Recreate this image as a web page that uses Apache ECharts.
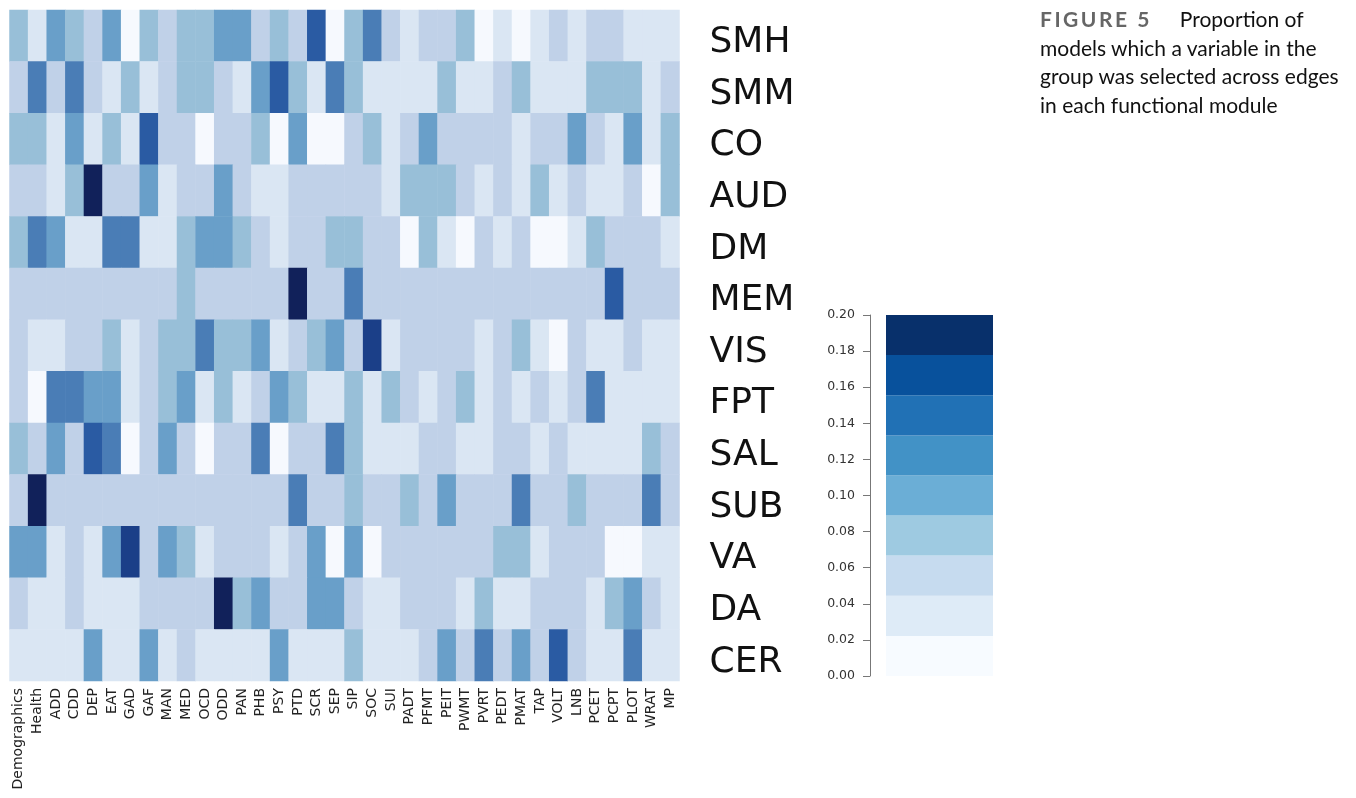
<!DOCTYPE html>
<html>
<head>
<meta charset="utf-8">
<script src="https://cdn.jsdelivr.net/npm/echarts@6/dist/echarts.min.js"></script>
<style>
  html, body { margin: 0; padding: 0; background: #fff; }
  #chart { width: 1356px; height: 798px; }
  #caption {
    position: absolute; left: 1040px; top: 5px; width: 316px; white-space: nowrap;
    font-family: Lato, sans-serif; font-size: 21px; line-height: 28.5px; color: #111;
  }
  #caption b { color: #666; letter-spacing: 2.5px; margin-right: 28px; }
</style>
</head>
<body>
<div id="chart"></div>
<div id="caption"><b>FIGURE 5</b>Proportion of<br>models which a variable in the<br>group was selected across edges<br>in each functional module</div>

<script>
  // variable groups (columns) and functional modules (rows)
  var groups = ['Demographics', 'Health', 'ADD', 'CDD', 'DEP', 'EAT', 'GAD', 'GAF', 'MAN', 'MED', 'OCD', 'ODD',
    'PAN', 'PHB', 'PSY', 'PTD', 'SCR', 'SEP', 'SIP', 'SOC', 'SUI', 'PADT', 'PFMT', 'PEIT', 'PWMT', 'PVRT',
    'PEDT', 'PMAT', 'TAP', 'VOLT', 'LNB', 'PCET', 'PCPT', 'PLOT', 'WRAT', 'MP'];
  var modules = ['SMH', 'SMM', 'CO', 'AUD', 'DM', 'MEM', 'VIS', 'FPT', 'SAL', 'SUB', 'VA', 'DA', 'CER'];

  // proportions, one row per module
  var SMH = [0.08, 0.03, 0.10, 0.08, 0.055, 0.10, 0.01, 0.08, 0.055, 0.08, 0.08, 0.10, 0.10, 0.055, 0.08, 0.055, 0.145, 0.01,
    0.08, 0.12, 0.055, 0.03, 0.055, 0.055, 0.08, 0.01, 0.03, 0.01, 0.03, 0.055, 0.03, 0.055, 0.055, 0.03, 0.03, 0.03];
  var SMM = [0.055, 0.12, 0.055, 0.12, 0.055, 0.03, 0.08, 0.03, 0.055, 0.08, 0.08, 0.055, 0.03, 0.10, 0.145, 0.08, 0.03, 0.12,
    0.08, 0.03, 0.03, 0.03, 0.03, 0.08, 0.03, 0.03, 0.055, 0.08, 0.03, 0.03, 0.03, 0.08, 0.08, 0.08, 0.03, 0.055];
  var CO = [0.08, 0.08, 0.03, 0.10, 0.03, 0.08, 0.03, 0.145, 0.055, 0.055, 0.01, 0.055, 0.055, 0.08, 0.01, 0.10, 0.01, 0.01,
    0.055, 0.08, 0.03, 0.055, 0.10, 0.055, 0.055, 0.055, 0.055, 0.03, 0.055, 0.055, 0.10, 0.055, 0.03, 0.10, 0.03, 0.08];
  var AUD = [0.055, 0.055, 0.03, 0.08, 0.19, 0.055, 0.055, 0.10, 0.03, 0.055, 0.055, 0.10, 0.055, 0.03, 0.03, 0.055, 0.055, 0.055,
    0.055, 0.055, 0.03, 0.08, 0.08, 0.08, 0.055, 0.03, 0.055, 0.03, 0.08, 0.03, 0.055, 0.03, 0.03, 0.055, 0.01, 0.08];
  var DM = [0.08, 0.12, 0.10, 0.03, 0.03, 0.12, 0.12, 0.03, 0.03, 0.08, 0.10, 0.10, 0.08, 0.055, 0.03, 0.055, 0.055, 0.08,
    0.08, 0.055, 0.055, 0.01, 0.08, 0.03, 0.01, 0.055, 0.03, 0.055, 0.01, 0.01, 0.03, 0.08, 0.055, 0.055, 0.055, 0.03];
  var MEM = [0.055, 0.055, 0.055, 0.055, 0.055, 0.055, 0.055, 0.055, 0.055, 0.08, 0.055, 0.055, 0.055, 0.055, 0.055, 0.19, 0.055, 0.055,
    0.12, 0.055, 0.055, 0.055, 0.055, 0.055, 0.055, 0.055, 0.055, 0.055, 0.055, 0.055, 0.055, 0.055, 0.145, 0.055, 0.055, 0.055];
  var VIS = [0.055, 0.03, 0.03, 0.055, 0.055, 0.08, 0.03, 0.055, 0.08, 0.08, 0.12, 0.08, 0.08, 0.10, 0.03, 0.055, 0.08, 0.10,
    0.055, 0.165, 0.03, 0.055, 0.055, 0.055, 0.055, 0.03, 0.055, 0.08, 0.03, 0.01, 0.055, 0.03, 0.03, 0.055, 0.03, 0.03];
  var FPT = [0.055, 0.01, 0.12, 0.12, 0.10, 0.10, 0.03, 0.055, 0.08, 0.10, 0.03, 0.08, 0.03, 0.055, 0.10, 0.08, 0.03, 0.03,
    0.08, 0.03, 0.08, 0.055, 0.03, 0.055, 0.08, 0.03, 0.055, 0.03, 0.055, 0.03, 0.055, 0.12, 0.03, 0.03, 0.03, 0.03];
  var SAL = [0.08, 0.055, 0.10, 0.055, 0.145, 0.12, 0.01, 0.055, 0.10, 0.055, 0.01, 0.055, 0.055, 0.12, 0.01, 0.055, 0.055, 0.12,
    0.08, 0.03, 0.03, 0.03, 0.055, 0.055, 0.03, 0.03, 0.055, 0.055, 0.03, 0.055, 0.03, 0.03, 0.03, 0.03, 0.08, 0.055];
  var SUB = [0.055, 0.19, 0.055, 0.055, 0.055, 0.055, 0.055, 0.055, 0.055, 0.055, 0.055, 0.055, 0.055, 0.055, 0.055, 0.12, 0.055, 0.055,
    0.08, 0.055, 0.055, 0.08, 0.055, 0.10, 0.055, 0.055, 0.055, 0.12, 0.055, 0.055, 0.08, 0.055, 0.055, 0.055, 0.12, 0.055];
  var VA = [0.10, 0.10, 0.03, 0.055, 0.03, 0.10, 0.165, 0.055, 0.10, 0.08, 0.03, 0.055, 0.055, 0.055, 0.03, 0.055, 0.10, 0.01,
    0.10, 0.01, 0.055, 0.055, 0.055, 0.055, 0.055, 0.055, 0.08, 0.08, 0.03, 0.055, 0.055, 0.055, 0.01, 0.01, 0.03, 0.03];
  var DA = [0.055, 0.03, 0.03, 0.055, 0.03, 0.03, 0.03, 0.055, 0.055, 0.055, 0.055, 0.19, 0.08, 0.10, 0.055, 0.055, 0.10, 0.10,
    0.055, 0.03, 0.03, 0.055, 0.055, 0.055, 0.03, 0.08, 0.03, 0.03, 0.055, 0.055, 0.055, 0.03, 0.08, 0.10, 0.055, 0.03];
  var CER = [0.03, 0.03, 0.03, 0.03, 0.10, 0.03, 0.03, 0.10, 0.03, 0.055, 0.03, 0.03, 0.03, 0.03, 0.10, 0.03, 0.03, 0.03,
    0.08, 0.03, 0.03, 0.03, 0.055, 0.10, 0.055, 0.12, 0.055, 0.10, 0.055, 0.145, 0.055, 0.03, 0.03, 0.12, 0.03, 0.03];

  var rows = [SMH, SMM, CO, AUD, DM, MEM, VIS, FPT, SAL, SUB, VA, DA, CER];

  // colour scale: 9 bins from 0 to 0.2
  var binEdges = [0, 0.0222, 0.0444, 0.0667, 0.0889, 0.1111, 0.1333, 0.1556, 0.1778, 0.2];
  var cellColors = ['#f6f9fe', '#dae6f3', '#c0d1e8', '#98bfd8', '#699fc9', '#4a7db6', '#2a5ba3', '#1b3f88', '#11215a'];
  var barColors = ['#f7fbff', '#deebf7', '#c6dbef', '#9ecae1', '#6baed6', '#4292c6', '#2171b5', '#08519c', '#08306b'];

  var cells = [];
  rows.forEach(function (r, i) {
    r.forEach(function (v, j) { cells.push([j, i, v]); });
  });

  var pieces = [];
  for (var k = 0; k < cellColors.length; k++) {
    pieces.push({ gte: binEdges[k], lt: binEdges[k + 1], color: cellColors[k] });
  }

  var labelFont = '"DejaVu Sans", sans-serif';

  var series = [{
    type: 'heatmap',
    xAxisIndex: 0,
    yAxisIndex: 0,
    data: cells,
    itemStyle: { borderWidth: 0 },
    emphasis: { disabled: true }
  }];

  // colour bar as stacked bars on its own value axis
  for (var b = 0; b < barColors.length; b++) {
    series.push({
      type: 'bar',
      xAxisIndex: 1,
      yAxisIndex: 1,
      stack: 'scale',
      barWidth: '100%',
      data: [binEdges[b + 1] - binEdges[b]],
      itemStyle: { color: barColors[b] },
      silent: true
    });
  }

  var option = {
    animation: false,
    grid: [
      { left: 9.5, top: 10, width: 670, height: 671 },
      { left: 886, top: 315, width: 107, height: 361 }
    ],
    xAxis: [{
      type: 'category',
      gridIndex: 0,
      data: groups,
      axisLine: { show: false },
      axisTick: { show: false },
      axisLabel: {
        interval: 0, rotate: 90, margin: 7,
        fontSize: 14, color: '#222', fontFamily: labelFont
      }
    }, {
      type: 'category',
      gridIndex: 1,
      data: ['scale'],
      show: false
    }],
    yAxis: [{
      type: 'category',
      gridIndex: 0,
      data: modules,
      inverse: true,
      position: 'right',
      axisLine: { show: false },
      axisTick: { show: false },
      axisLabel: {
        margin: 30, fontSize: 36, color: '#111', fontFamily: labelFont,
        verticalAlign: 'top', lineHeight: 14
      }
    }, {
      type: 'value',
      gridIndex: 1,
      min: 0,
      max: 0.2,
      interval: 0.02,
      position: 'left',
      offset: 16,
      splitLine: { show: false },
      axisLine: { show: true, lineStyle: { color: '#777', width: 1 } },
      axisTick: { show: true, length: 7, lineStyle: { color: '#777' } },
      axisLabel: {
        margin: 15, fontSize: 12.5, color: '#333',
        fontFamily: '"DejaVu Sans", sans-serif',
        formatter: function (v) { return v.toFixed(2); }
      }
    }],
    visualMap: {
      type: 'piecewise',
      show: false,
      seriesIndex: 0,
      dimension: 2,
      pieces: pieces
    },
    series: series
  };

  var chart = echarts.init(document.getElementById('chart'));
  chart.setOption(option);
</script>
</body>
</html>
